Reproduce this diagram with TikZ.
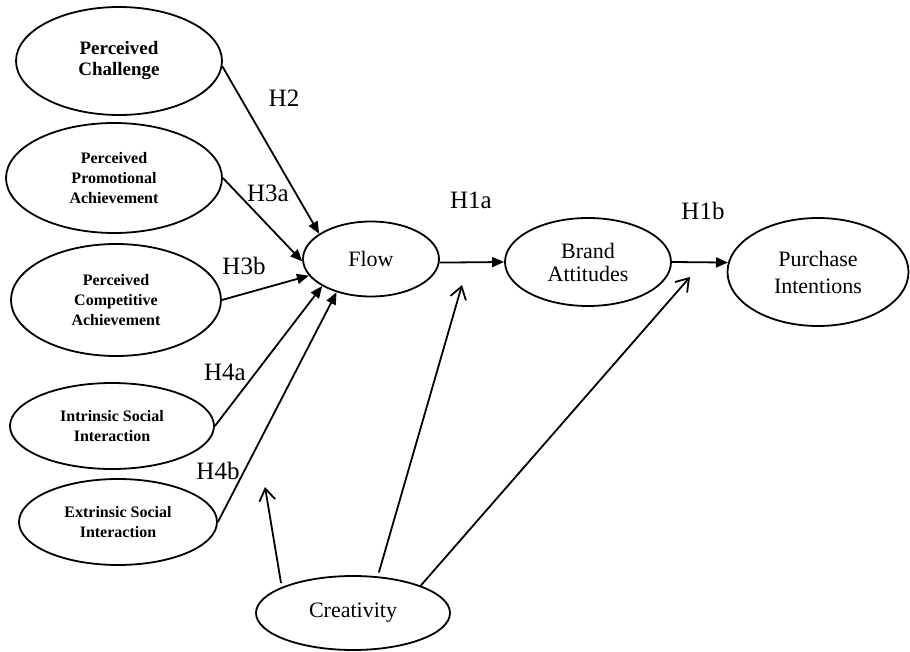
\documentclass[tikz,border=0pt]{standalone}
\usepackage{fontspec}
\setmainfont{Liberation Serif}
\usetikzlibrary{shapes.geometric,arrows.meta}

\begin{document}
\begin{tikzpicture}[x=1pt, y=-1pt, line width=1.8pt,
  every node/.style={align=center},
  construct/.style={draw, ellipse, inner sep=0pt, font=\fontsize{22}{25}\selectfont},
  factor/.style={construct, font=\bfseries\fontsize{16}{20}\selectfont},
  hyp/.style={font=\fontsize{25}{25}\selectfont},
  path/.style={-{Triangle[length=12pt,width=10pt]}},
  moder/.style={-{Straight Barb[length=12pt,width=16pt]}}]
\useasboundingbox (0,0) rectangle (910,652);

\node[factor, minimum width=206pt, minimum height=108pt, font=\bfseries\fontsize{19}{21}\selectfont] (chal) at (119,61) {Perceived\\Challenge};
\node[factor, minimum width=216pt, minimum height=110pt] (promo) at (114,178) {Perceived\\Promotional\\Achievement};
\node[factor, minimum width=210pt, minimum height=112pt] (compet) at (116,300) {Perceived\\Competitive\\Achievement};
\node[factor, minimum width=204pt, minimum height=86pt] (intrin) at (112,426) {Intrinsic Social\\Interaction};
\node[factor, minimum width=198pt, minimum height=86pt] (extrin) at (118,522) {Extrinsic Social\\Interaction};

\node[construct, minimum width=136pt, minimum height=75pt] (flow) at (371,259) {Flow};
\node[construct, minimum width=166pt, minimum height=88pt, font=\fontsize{22}{23}\selectfont] (brand) at (588,262) {Brand\\Attitudes};
\node[construct, minimum width=181pt, minimum height=108pt, font=\fontsize{22}{27}\selectfont] (purch) at (818,272) {Purchase\\Intentions};
\node[construct, minimum width=194pt, minimum height=74pt] (creat) at (353,613) {Creativity};

% hypothesis labels
\node[hyp] (h2) at (284,98) {H2};
\node[hyp] (h3a) at (268,193) {H3a};
\node[hyp] (h3b) at (244,266) {H3b};
\node[hyp] (h4a) at (225,372) {H4a};
\node[hyp] (h4b) at (218,471) {H4b};
\node[hyp] (h1a) at (471,200) {H1a};
\node[hyp] (h1b) at (703,211) {H1b};

\draw[path] (chal.-3) -- (flow.154);
\draw[path] (promo.east) -- (flow.182);
\draw[path] (compet.east) -- (flow.195);
\draw[path] (intrin.east) -- (flow.209);
\draw[path] (extrin.east) -- (flow.224);
\draw[path] (flow.-3) -- (brand.west);
\draw[path] (brand.east) -- (purch.174);

% moderating effects of creativity
\coordinate (m1) at (265,487);
\coordinate (m2) at (462,285);
\coordinate (m3) at (690,277);
\draw[moder, shorten <=4pt] (creat.160) -- (m1);
\draw[moder, shorten <=4pt] (creat.56) -- (m2);
\draw[moder] (creat.22) -- (m3);
\end{tikzpicture}
\end{document}
